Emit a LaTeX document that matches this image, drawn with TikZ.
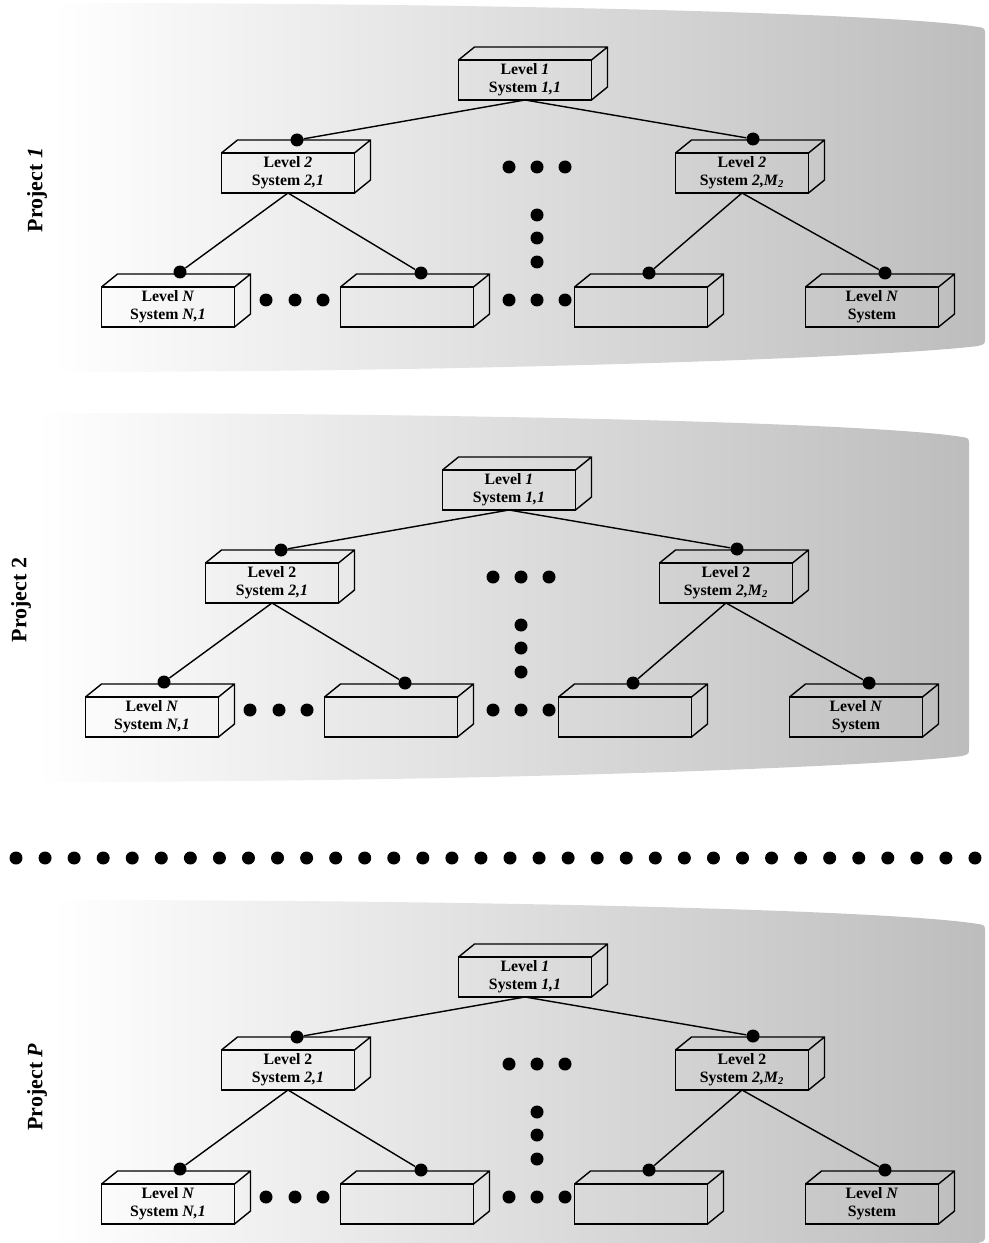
\documentclass[tikz,border=0pt]{standalone}
\usepackage{fontspec}
\setmainfont{Liberation Serif}
\tikzset{x=0.02cm, y=-0.02cm, every edge/.style={draw, line width=0.8pt}}
\tikzstyle{sysbox}=[rectangle,draw=black,line width=0.8pt,minimum width=2.66cm,minimum height=0.8cm,inner sep=0pt,outer sep=0pt,align=center,font=\fontsize{9}{10.2}\selectfont\bfseries]
\tikzstyle{blob}=[circle,fill=black,inner sep=0pt,minimum size=0.26cm]
\tikzstyle{projlabel}=[rotate=90,font=\fontsize{12.5}{14}\selectfont\bfseries]

% front face plus top and side faces
\newcommand{\sysbox}[3]{%
	\node[sysbox] (#1) at (#2) {#3};
	\draw[line width=0.8pt] (#1.north west) -- ++(16,-13) -- ++(133,0) -- ++(0,40) -- (#1.south east) (#1.north east) -- ++(16,-13);
}

% one project: x shift, y shift, label, level 2 digit, name prefix
\newcommand{\projectpanel}[5]{%
	\begin{scope}[shift={(#1,#2)}]
	\shade[left color=white,right color=black!26] (52,3) .. controls (520,3) and (900,14) .. (978,27) .. controls (985,28) .. (985,36) -- (985,338) .. controls (985,344) .. (978,346) .. controls (900,356) and (520,372) .. (52,372) -- cycle;
	\node[projlabel] (#5proj) at (37,190) {#3};
	\sysbox{#5top}{525,80}{Level \textit{1}\\System \textit{1,1}}
	\sysbox{#5la}{288,173}{Level #4\\System \textit{2,1}}
	\sysbox{#5lb}{742,173}{Level #4\\System \textit{2,M\textsubscript{2}}}
	\sysbox{#5na}{168,307}{Level \textit{N}\\System \textit{N,1}}
	\sysbox{#5nb}{407,307}{}
	\sysbox{#5nc}{641,307}{}
	\sysbox{#5nd}{872,307}{Level \textit{N}\\System}
	\node[blob] (#5d1) at (297,140) {};
	\node[blob] (#5d2) at (753,139) {};
	\node[blob] (#5d3) at (180,272) {};
	\node[blob] (#5d4) at (421,273) {};
	\node[blob] (#5d5) at (649,273) {};
	\node[blob] (#5d6) at (885,273) {};
	\draw (#5top.south) edge (#5d1) (#5top.south) edge (#5d2);
	\draw (#5la.south) edge (#5d3) (#5la.south) edge (#5d4);
	\draw (#5lb.south) edge (#5d5) (#5lb.south) edge (#5d6);
	\foreach \x [count=\i] in {266,295,323} \node[blob] (#5ea\i) at (\x,300) {};
	\foreach \x [count=\i] in {509,537,565} \node[blob] (#5eb\i) at (\x,300) {};
	\foreach \x [count=\i] in {509,537,565} \node[blob] (#5ec\i) at (\x,167) {};
	\foreach \y [count=\i] in {215,238,262} \node[blob] (#5ed\i) at (537,\y) {};
	\end{scope}
}

\begin{document}
\begin{tikzpicture}
	\useasboundingbox (0,0) rectangle (989,1243);
	\projectpanel{0}{0}{Project \textit{1}}{\textit{2}}{pa}
	\projectpanel{-16}{410}{Project 2}{2}{pb}
	\projectpanel{0}{897}{Project \textit{P}}{2}{pp}
	\foreach \i in {0,...,33} \node[blob] (row\i) at (16+29.06*\i,858) {};
\end{tikzpicture}
\end{document}
